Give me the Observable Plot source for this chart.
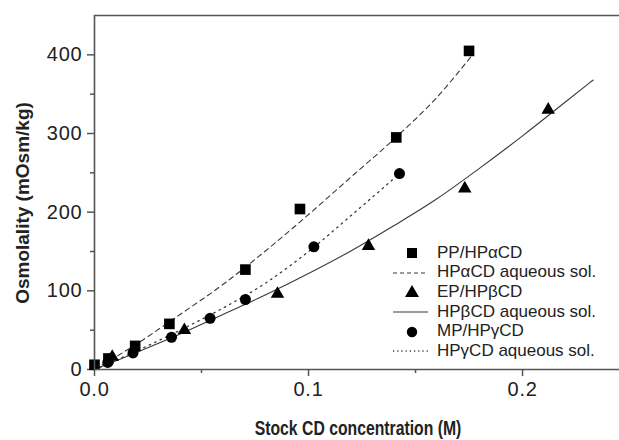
<!DOCTYPE html>
<html>
<head>
<meta charset="utf-8">
<script src="https://cdn.jsdelivr.net/npm/d3@7"></script>
<script src="https://cdn.jsdelivr.net/npm/@observablehq/plot@0.6"></script>
<style>
  body { margin: 0; background: #fff; }
  #wrap { position: relative; width: 619px; height: 440px; overflow: hidden; font-family: "Liberation Sans", Arial, sans-serif; }
  #wrap > svg text { font-size: 20px; letter-spacing: 0.8px; fill: #222; }
  .ytitle { position: absolute; left: 23px; top: 203px; transform: translate(-50%, -50%) rotate(-90deg); white-space: nowrap;
            font: bold 19px "Liberation Sans", Arial, sans-serif; color: #222; }
  .xtitle { position: absolute; left: 358px; top: 428px; transform: translate(-50%, -50%) scaleX(0.75); white-space: nowrap;
            font: bold 21px "Liberation Sans", Arial, sans-serif; color: #222; }
  #legend { position: absolute; left: 390px; top: 243px; }
  .row { display: flex; align-items: center; height: 19.6px; }
  .row svg { width: 44px; height: 19px; flex: none; }
  .row span { font-size: 17px; color: #222; margin-left: 3px; white-space: nowrap; }
</style>
</head>
<body>
<div id="wrap"></div>
<script>
// ---- data ----
const xTicks = [0, 0.1, 0.2];
const xMinorTicks = [0.05, 0.15];
const yTicks = [0, 100, 200, 300, 400];
const yMinorTicks = [50, 150, 250, 350];

// PP/HPαCD (squares)
const ppX = [0, 0.0065, 0.019, 0.035, 0.0705, 0.096, 0.141, 0.175];
const ppY = [6, 14, 30, 58, 127, 204, 295, 405];
// EP/HPβCD (triangles)
const epX = [0.0083, 0.042, 0.0855, 0.128, 0.173, 0.212];
const epY = [16, 50, 96, 157, 230, 330];
// MP/HPγCD (circles)
const mpX = [0.0062, 0.018, 0.036, 0.054, 0.0705, 0.1025, 0.1425];
const mpY = [9, 21, 41, 65, 89, 156, 249];

// aqueous solution curves
const alphaX = [0, 0.02, 0.04, 0.06, 0.08, 0.10, 0.12, 0.14, 0.16, 0.176];
const alphaY = [0, 33, 70, 108, 151, 197, 245, 293, 346, 398];
const betaX = [0, 0.02, 0.04, 0.06, 0.08, 0.10, 0.12, 0.14, 0.16, 0.18, 0.20, 0.22, 0.233];
const betaY = [0, 22, 45, 70, 95, 122, 151, 183, 217, 256, 297, 340, 368];
const gammaX = [0, 0.02, 0.04, 0.06, 0.08, 0.10, 0.12, 0.14];
const gammaY = [0, 24, 50, 78, 110, 150, 196, 243];

const legendLabels = ["PP/HP\u03b1CD", "HP\u03b1CD aqueous sol.", "EP/HP\u03b2CD", "HP\u03b2CD aqueous sol.", "MP/HP\u03b3CD", "HP\u03b3CD aqueous sol."];
const xTitle = "Stock CD concentration (M)";
const yTitle = "Osmolality (mOsm/kg)";

// ---- build ----
const zip = (xs, ys) => xs.map((x, i) => ({x, y: ys[i]}));
const pp = zip(ppX, ppY), ep = zip(epX, epY), mp = zip(mpX, mpY);
const aL = zip(alphaX, alphaY), bL = zip(betaX, betaY), gL = zip(gammaX, gammaY);

const axisColor = "#555";
const lineColor = "#3a3a3a";

const chart = Plot.plot({
  width: 619,
  height: 440,
  marginLeft: 94,
  marginRight: 0,
  marginTop: 15,
  marginBottom: 71,
  x: {domain: [0, 0.2453]},
  y: {domain: [0, 450]},
  style: {fontFamily: "'Liberation Sans', Arial, sans-serif", fontSize: "20px", color: "#222", background: "#fff"},
  marks: [
    Plot.axisX({ticks: xTicks, tickSize: 7, tickPadding: 5, tickFormat: d => d.toFixed(1), label: null, stroke: axisColor, strokeWidth: 1.5}),
    Plot.axisX({ticks: xMinorTicks, tickSize: 4, tickFormat: () => "", label: null, stroke: axisColor, strokeWidth: 1.5}),
    Plot.axisY({ticks: yTicks, tickSize: 7, tickPadding: 5, tickFormat: d => String(d), label: null, stroke: axisColor, strokeWidth: 1.5}),
    Plot.axisY({ticks: yMinorTicks, tickSize: 4, tickFormat: () => "", label: null, stroke: axisColor, strokeWidth: 1.5}),
    Plot.line(aL, {x: "x", y: "y", curve: "monotone-x", stroke: lineColor, strokeWidth: 1.1, strokeDasharray: "5,4"}),
    Plot.line(bL, {x: "x", y: "y", curve: "monotone-x", stroke: lineColor, strokeWidth: 1.1}),
    Plot.line(gL, {x: "x", y: "y", curve: "monotone-x", stroke: lineColor, strokeWidth: 1.3, strokeDasharray: "1.5,4.5"}),
    Plot.dot(pp, {x: "x", y: "y", symbol: "square", r: 6, fill: "#000", stroke: "none"}),
    Plot.dot(ep, {x: "x", y: "y", symbol: "triangle", r: 5, fill: "#000", stroke: "none"}),
    Plot.dot(mp, {x: "x", y: "y", symbol: "circle", r: 5.5, fill: "#000", stroke: "none"}),
    Plot.ruleY([0], {stroke: axisColor, strokeWidth: 1.6}),
    Plot.ruleX([0], {stroke: axisColor, strokeWidth: 1.6}),
    Plot.ruleY([450], {stroke: axisColor, strokeWidth: 1.6})
  ]
});

const wrap = document.getElementById("wrap");
wrap.appendChild(chart);

const yt = document.createElement("div"); yt.className = "ytitle"; yt.textContent = yTitle; wrap.appendChild(yt);
const xt = document.createElement("div"); xt.className = "xtitle"; xt.textContent = xTitle; wrap.appendChild(xt);

// legend
const swatches = [
  '<rect x="17" y="5" width="10" height="10" fill="#000"/>',
  '<line x1="3" x2="38" y1="10" y2="10" stroke="#3a3a3a" stroke-width="1.1" stroke-dasharray="4,3"/>',
  '<path d="M22,3 L29,15 L15,15 Z" fill="#000"/>',
  '<line x1="3" x2="38" y1="10" y2="10" stroke="#3a3a3a" stroke-width="1.1"/>',
  '<circle cx="22" cy="10" r="5.2" fill="#000"/>',
  '<line x1="3" x2="38" y1="10" y2="10" stroke="#3a3a3a" stroke-width="1.3" stroke-dasharray="1.2,3"/>'
];
const legend = document.createElement("div");
legend.id = "legend";
legendLabels.forEach((lab, i) => {
  const row = document.createElement("div");
  row.className = "row";
  row.innerHTML = `<svg viewBox="0 0 44 19">${swatches[i]}</svg>`;
  const s = document.createElement("span");
  s.textContent = lab;
  row.appendChild(s);
  legend.appendChild(row);
});
wrap.appendChild(legend);
</script>
</body>
</html>
